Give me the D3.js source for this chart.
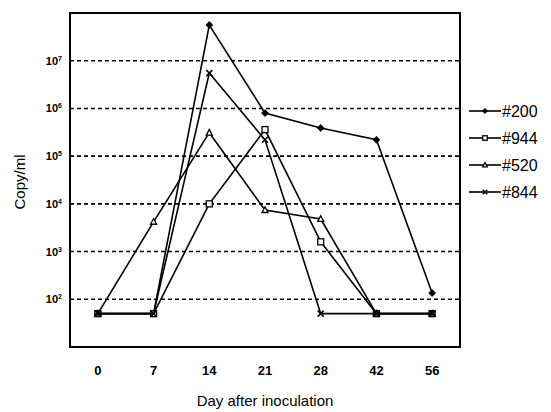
<!DOCTYPE html>
<html><head><meta charset="utf-8">
<script src="https://cdn.jsdelivr.net/npm/d3@7/dist/d3.min.js"></script>
<style>body{margin:0;background:#fff}svg{display:block}</style>
</head><body><svg id="c" width="551" height="412"></svg>
<script>
const days = ["0","7","14","21","28","42","56"];
const seriesNames = ["#200","#944","#520","#844"];
const s200 = [50, 50, 5.6e7, 8.0e5, 3.9e5, 2.2e5, 135];
const s944 = [50, 50, 1.0e4, 3.6e5, 1.6e3, 50, 50];
const s520 = [50, 4.2e3, 3.1e5, 7.4e3, 4.8e3, 50, 50];
const s844 = [50, 50, 5.5e6, 2.2e5, 50, 50, 50];
const yTickExp = [2,3,4,5,6,7];

const svg = d3.select("#c");
const L=70, R=460, T=13, B=347;
const x = d3.scalePoint().domain(days).range([L,R]).padding(0.5);
const y = d3.scaleLog().domain([10,1e8]).range([B,T]);

svg.append("g").selectAll("line").data(yTickExp).join("line")
  .attr("x1",L).attr("x2",R).attr("y1",d=>y(Math.pow(10,d))).attr("y2",d=>y(Math.pow(10,d)))
  .attr("stroke","#000").attr("stroke-width",1.6).attr("stroke-dasharray","4,3");

svg.append("rect").attr("x",L).attr("y",T).attr("width",R-L).attr("height",B-T)
  .attr("fill","none").attr("stroke","#000").attr("stroke-width",2);

const yl = svg.append("g").selectAll("text").data(yTickExp).join("text")
  .attr("x",L-8).attr("y",d=>y(Math.pow(10,d))+4)
  .attr("text-anchor","end").attr("font-family","Arial, Liberation Sans, sans-serif")
  .attr("font-size",11).attr("font-weight","bold");
yl.append("tspan").text("10");
yl.append("tspan").attr("dy",-4).attr("font-size",7).text(d=>d);

svg.append("g").selectAll("text").data(days).join("text")
  .attr("x",d=>x(d)).attr("y",375).attr("text-anchor","middle")
  .attr("font-family","Arial, Liberation Sans, sans-serif").attr("font-size",13).attr("font-weight","bold")
  .text(d=>d);

svg.append("text").attr("x",265).attr("y",406).attr("text-anchor","middle")
  .attr("font-family","Arial, Liberation Sans, sans-serif").attr("font-size",15).text("Day after inoculation");
svg.append("text").attr("transform","translate(25,182) rotate(-90)").attr("text-anchor","middle")
  .attr("font-family","Arial, Liberation Sans, sans-serif").attr("font-size",15).text("Copy/ml");

const data = [s200,s944,s520,s844];
const line = d3.line().x((d,i)=>x(days[i])).y(d=>y(d));

function marker(g, type, cx, cy, s){
  const a=s/2;
  if(type===0){
    g.append("path").attr("d",`M${cx},${cy-a*1.15}L${cx+a*1.15},${cy}L${cx},${cy+a*1.15}L${cx-a*1.15},${cy}Z`).attr("fill","#000").attr("stroke","#000").attr("stroke-width",0.8);
  } else if(type===1){
    g.append("rect").attr("x",cx-a).attr("y",cy-a).attr("width",s).attr("height",s).attr("fill","#fff").attr("stroke","#000").attr("stroke-width",1.3);
  } else if(type===2){
    g.append("path").attr("d",`M${cx},${cy-a*1.1}L${cx+a},${cy+a*0.8}L${cx-a},${cy+a*0.8}Z`).attr("fill","#fff").attr("stroke","#000").attr("stroke-width",1.3);
  } else {
    g.append("path").attr("d",`M${cx-a},${cy-a}L${cx+a},${cy+a}M${cx-a},${cy+a}L${cx+a},${cy-a}`).attr("stroke","#000").attr("stroke-width",1.5);
  }
}

data.forEach((vals,k)=>{
  const g = svg.append("g");
  g.append("path").attr("d",line(vals)).attr("fill","none").attr("stroke","#000").attr("stroke-width",1.6);
  vals.forEach((v,i)=>marker(g,k,x(days[i]),y(v),6));
});

const lg = svg.append("g");
seriesNames.forEach((n,k)=>{
  const yy = 111 + k*27;
  lg.append("line").attr("x1",469).attr("x2",501).attr("y1",yy).attr("y2",yy).attr("stroke","#000").attr("stroke-width",1.6);
  marker(lg,k,485,yy,4.5);
  lg.append("text").attr("x",502).attr("y",yy+6).attr("font-family","Arial, Liberation Sans, sans-serif").attr("font-size",16).text(n);
});
</script></body></html>
